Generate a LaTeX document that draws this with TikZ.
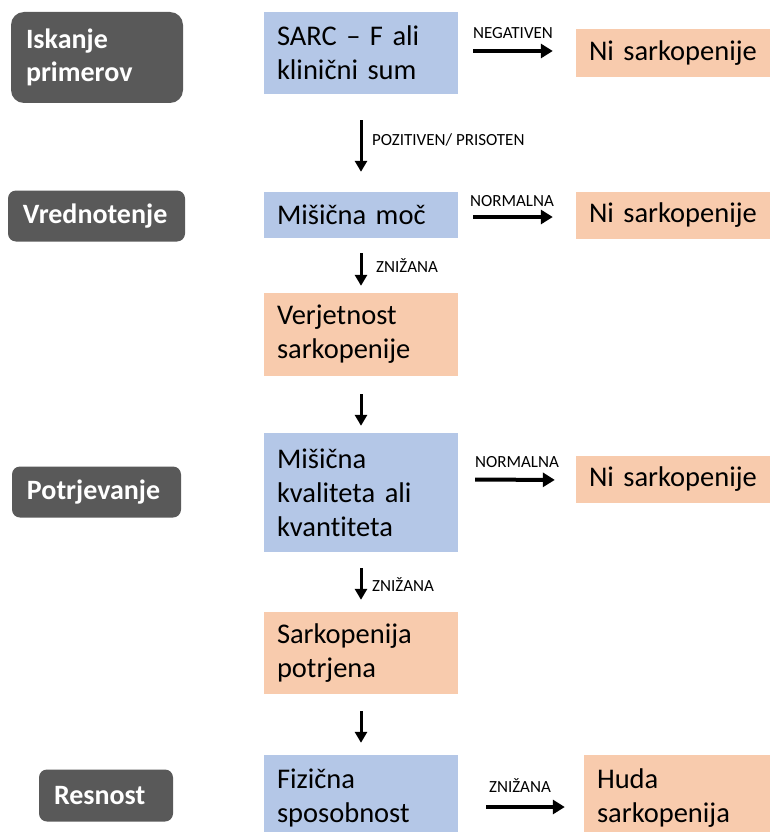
\documentclass[tikz,border=0pt]{standalone}
\usepackage{fontspec}
\setmainfont{Carlito}[Ligatures=NoCommon]
\usetikzlibrary{arrows.meta,calc}
\definecolor{darkbox}{HTML}{595959}
\definecolor{bluebox}{HTML}{B4C7E7}
\definecolor{orangebox}{HTML}{F8CBAD}
\begin{document}
\begin{tikzpicture}[x=1pt,y=-1pt,
  stagebox/.style={fill=darkbox, rounded corners=8pt, text=white, font=\fontsize{28}{33}\selectfont\bfseries, align=left, inner xsep=15pt, inner ysep=0pt},
  bluestep/.style={fill=bluebox, minimum width=194pt, text width=168pt, inner xsep=13pt, inner ysep=0pt, align=left, font=\fontsize{28.5}{34}\selectfont},
  orangestep/.style={bluestep, fill=orangebox},
  arr/.style={-{Triangle[length=11pt,width=12pt]}, line width=3pt},
  harr/.style={-{Triangle[length=12pt,width=14pt]}, line width=4pt},
  lbl/.style={font=\fontsize{17}{20}\selectfont, inner sep=0pt}
]
\useasboundingbox (0,0) rectangle (770,832);
\clip (0,0) rectangle (770,832);

% stage labels
\node[stagebox, rounded corners=13pt, minimum width=172pt, text width=142pt, minimum height=91pt] (s1) at (97,57.5) {Iskanje\\primerov};
\node[stagebox, minimum width=177pt, text width=147pt, minimum height=51pt] (s2) at (96.5,216) {Vrednotenje};
\node[stagebox, minimum width=169pt, text width=139pt, minimum height=51pt] (s3) at (96.5,492) {Potrjevanje};
\node[stagebox, minimum width=134pt, text width=104pt, minimum height=52pt] (s4) at (106,795.5) {Resnost};

% main column
\node[bluestep, minimum height=82pt] (sarc) at (361,53) {SARC -- F ali\\klinični sum};
\node[bluestep, minimum height=46pt] (moc) at (361,215) {Mišična moč};
\node[orangestep, minimum height=83pt] (verj) at (361,334.5) {Verjetnost\\sarkopenije};
\node[bluestep, minimum height=119pt] (kval) at (361,492.5) {Mišična\\kvaliteta ali\\kvantiteta};
\node[orangestep, minimum height=82pt] (potr) at (361,653) {Sarkopenija\\potrjena};
\node[bluestep, minimum height=86pt] (fiz) at (361,798) {Fizična\\sposobnost};

% right column
\node[orangestep, minimum height=48pt] (ni1) at (673,53) {Ni sarkopenije};
\node[orangestep, minimum height=47pt] (ni2) at (673,215.5) {Ni sarkopenije};
\node[orangestep, minimum height=47pt] (ni3) at (673,479.5) {Ni sarkopenije};
\node[orangestep, minimum height=86pt] (huda) at (681,798) {Huda\\sarkopenija};

% vertical arrows
\draw[arr, shorten <=26pt, shorten >=20pt] (sarc.south) -- (moc.north);
\draw[arr, shorten <=15pt, shorten >=7pt] (moc.south) -- (verj.north);
\draw[arr, shorten <=18pt, shorten >=7pt] (verj.south) -- (kval.north);
\draw[arr, shorten <=16pt, shorten >=12pt] (kval.south) -- (potr.north);
\draw[arr, shorten <=17pt, shorten >=12pt] (potr.south) -- (fiz.north);

% horizontal arrows
\draw[harr, shorten <=15pt, shorten >=23pt] ([yshift=2pt]sarc.east) -- ([yshift=2pt]ni1.west);
\draw[harr, shorten <=15pt, shorten >=23pt] ([yshift=-2pt]moc.east) -- ([yshift=-1.5pt]ni2.west);
\draw[harr, shorten <=17pt, shorten >=21pt] (kval.east |- ni3.west) -- ([yshift=-0.5pt]ni3.west);
\draw[harr, shorten <=28pt, shorten >=19pt] ([yshift=-9pt]fiz.east) -- ([yshift=-9pt]huda.west);

% labels
\node[lbl, anchor=base] (l1) at (513,39) {NEGATIVEN};
\node[lbl, anchor=base] (l2) at (512,206) {NORMALNA};
\node[lbl, anchor=base] (l3) at (517,467) {NORMALNA};
\node[lbl, anchor=base] (l4) at (520,792) {ZNIŽANA};
\node[lbl, anchor=base west] (l5) at (372,145) {POZITIVEN/ PRISOTEN};
\node[lbl, anchor=base west] (l6) at (376,272) {ZNIŽANA};
\node[lbl, anchor=base west] (l7) at (372,591) {ZNIŽANA};
\end{tikzpicture}
\end{document}
